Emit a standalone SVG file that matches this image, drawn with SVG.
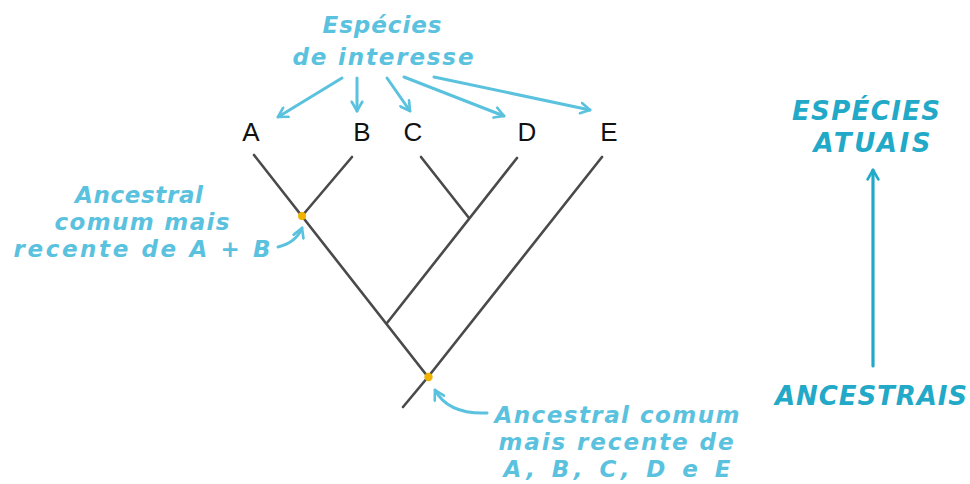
<svg xmlns="http://www.w3.org/2000/svg" width="970" height="484" viewBox="0 0 970 484">
<defs>
<style>
.br{stroke:#4a4a4a;stroke-width:2.6;fill:none;stroke-linecap:round}
.lbl{font-family:"Liberation Sans","DejaVu Sans",sans-serif;font-size:26px;fill:#111;text-anchor:middle}
.ann{font-family:"DejaVu Sans","Liberation Sans",sans-serif;font-style:oblique;font-weight:bold;font-size:23px;fill:#5ac2de;text-anchor:middle}
.big{font-family:"DejaVu Sans","Liberation Sans",sans-serif;font-style:oblique;font-weight:bold;font-size:26px;fill:#22a9c8;text-anchor:middle}
.la{stroke:#5ac2de;stroke-width:3;fill:none;stroke-linecap:round}
.da{stroke:#22a9c8;stroke-width:3.2;fill:none;stroke-linecap:round}
.dot{fill:#f0b300}
</style>
<marker id="hl" viewBox="0 0 10 10" refX="8" refY="5" markerWidth="4.4" markerHeight="4.4" orient="auto">
<path d="M1,1 L8,5 L1,9" fill="none" stroke="#5ac2de" stroke-width="2" stroke-linecap="round" stroke-linejoin="round"/>
</marker>
<marker id="hd" viewBox="0 0 10 10" refX="8" refY="5" markerWidth="4.2" markerHeight="4.2" orient="auto">
<path d="M1,1 L8,5 L1,9" fill="none" stroke="#22a9c8" stroke-width="2" stroke-linecap="round" stroke-linejoin="round"/>
</marker>
</defs>
<rect width="970" height="484" fill="#fff"/>

<g id="connectors">
<!-- tree branches -->
<path class="br" d="M254,155 L428,377 L403,407"/>
<path class="br" d="M352,157 L302,216"/>
<path class="br" d="M421,157 L469,218"/>
<path class="br" d="M517,158 L387,323"/>
<path class="br" d="M602,157 L428,377"/>
<!-- annotation arrows -->
<path class="la" marker-end="url(#hl)" d="M342,78 L278,117"/>
<path class="la" marker-end="url(#hl)" d="M357,78 L357,111"/>
<path class="la" marker-end="url(#hl)" d="M387,78 L410,111"/>
<path class="la" marker-end="url(#hl)" d="M404,77 L504,116"/>
<path class="la" marker-end="url(#hl)" d="M434,77 L590,110"/>
<path class="la" marker-end="url(#hl)" d="M278,247 C290,244 298,238 302,228"/>
<path class="la" marker-end="url(#hl)" d="M487,413 C460,414 443,405 435,390"/>
<path class="da" marker-end="url(#hd)" d="M873,366 L873,170"/>
</g>

<g id="node-A"><text class="lbl" x="251" y="141">A</text></g>
<g id="node-B"><text class="lbl" x="362" y="141">B</text></g>
<g id="node-C"><text class="lbl" x="413" y="141">C</text></g>
<g id="node-D"><text class="lbl" x="527" y="141">D</text></g>
<g id="node-E"><text class="lbl" x="609" y="141">E</text></g>

<g id="node-ab"><circle class="dot" cx="302" cy="216" r="4"/></g>
<g id="node-root"><circle class="dot" cx="428.5" cy="377" r="4.2"/></g>

<g id="label-interesse">
<text class="ann" x="382" y="33" textLength="119">Espécies</text>
<text class="ann" x="383" y="65" textLength="181">de interesse</text>
</g>
<g id="label-ab">
<text class="ann" x="139" y="203" textLength="128">Ancestral</text>
<text class="ann" x="142" y="230" textLength="175">comum mais</text>
<text class="ann" x="142" y="257" textLength="257">recente de A + B</text>
</g>
<g id="label-root">
<text class="ann" x="617" y="423" textLength="245">Ancestral comum</text>
<text class="ann" x="616" y="450" textLength="235">mais recente de</text>
<text class="ann" x="617" y="477" textLength="227">A, B, C, D e E</text>
</g>
<g id="label-atuais">
<text class="big" x="866" y="120" textLength="148">ESPÉCIES</text>
<text class="big" x="872" y="152" textLength="117">ATUAIS</text>
</g>
<g id="label-ancestrais">
<text class="big" x="871" y="405" textLength="192">ANCESTRAIS</text>
</g>
</svg>
